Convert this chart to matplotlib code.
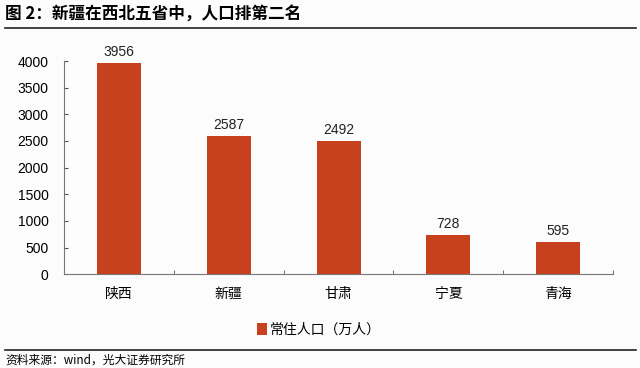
import matplotlib
matplotlib.use("Agg")
import matplotlib.pyplot as plt
from matplotlib.lines import Line2D

plt.rcParams['font.family'] = ['Noto Sans CJK SC', 'DejaVu Sans']

provinces = ["陕西", "新疆", "甘肃", "宁夏", "青海"]
population = [3956, 2587, 2492, 728, 595]
bar_color = "#C8411E"

fig = plt.figure(figsize=(6.4, 3.68), dpi=100)
fig.patch.set_facecolor("#FCFCFD")
ax = fig.add_axes([0.1, 0.255, 0.858, 0.579])
ax.set_facecolor("#FCFCFD")

x = list(range(len(provinces)))
bars = ax.bar(x, population, width=0.4, color=bar_color, label="常住人口（万人）")
for xi, v in zip(x, population):
    ax.text(xi, v + 90, str(v), ha="center", va="bottom", fontsize=10, color="#222222",
            family="Liberation Sans")

ax.set_xlim(-0.5, len(provinces) - 0.5)
ax.set_ylim(0, 4000)
ax.set_yticks(range(0, 4001, 500))
ax.set_yticklabels([str(t) for t in range(0, 4001, 500)], fontsize=10, family="Liberation Sans")
ax.set_xticks(x)
ax.set_xticklabels(provinces, fontsize=10)
ax.tick_params(axis="x", length=0, pad=9)
ax.set_xticks([i + 0.5 for i in x], minor=True)
ax.tick_params(axis="x", which="minor", direction="in", length=3, color="#555555")
ax.tick_params(axis="y", direction="in", length=3, color="#555555", pad=11)
for s in ["top", "right"]:
    ax.spines[s].set_visible(False)
for s in ["left", "bottom"]:
    ax.spines[s].set_color("#777777")
    ax.spines[s].set_linewidth(0.8)

ax.legend(loc="upper center", bbox_to_anchor=(0.464, -0.17), frameon=False, fontsize=10,
          handlelength=0.7, handleheight=0.9, handletextpad=0.2)

fig.text(0.008, 0.962, "图 2：新疆在西北五省中，人口排第二名", fontsize=12, fontweight="bold",
         va="center", ha="left")
fig.add_artist(Line2D([0.008, 0.993], [0.925, 0.925], color="#222222", linewidth=1.2))
fig.add_artist(Line2D([0.008, 0.993], [0.048, 0.048], color="#222222", linewidth=1.2))
fig.text(0.008, 0.022, "资料来源：wind，光大证券研究所", fontsize=8.5, va="center", ha="left")

fig.savefig("out.png", dpi=100, facecolor=fig.get_facecolor())
